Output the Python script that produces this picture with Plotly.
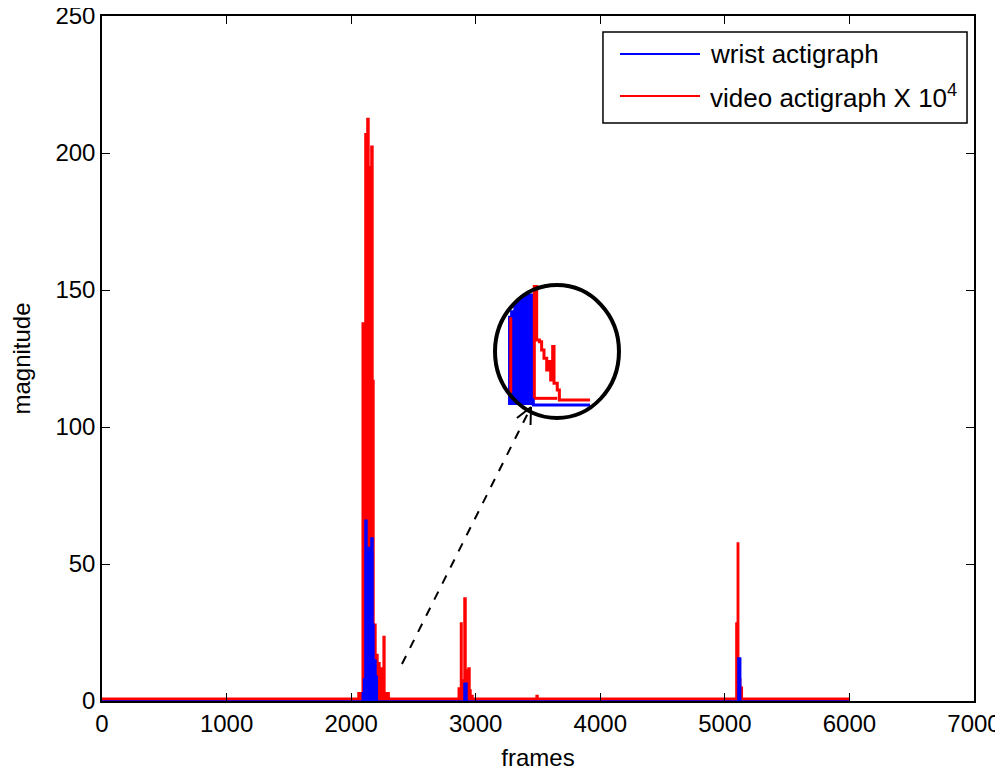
import plotly.graph_objects as go

# ---------------- data ----------------
# wrist actigraph (blue) – step samples (frame, magnitude)
wrist_frames = [0, 2090, 2100, 2111, 2127, 2159, 2175, 2183, 2199, 2210,
                2906, 2930, 5105, 5127, 6000]
wrist_mag = [0, 3, 8, 66, 56, 59.5, 28, 15, 9, 0,
             6.5, 0, 15.7, 0, 0]

# video actigraph x 10^4 (red)
video_frames = [0, 2055, 2089, 2111, 2127, 2143, 2159, 2175, 2183, 2199, 2215,
                2231, 2247, 2257, 2271, 2305, 2860, 2878, 2890, 2906, 2922,
                2938, 2954, 2962, 2978, 3485, 3500, 5089, 5100, 5111, 5127,
                5140, 6000]
video_mag = [1, 3, 138, 207, 212.6, 195, 202.5, 117, 28, 17, 14,
             12, 10, 23.5, 3, 1, 4.7, 28.5, 7.7, 37.6, 11.3,
             12, 4, 2, 1, 2, 1, 28.5, 57.7, 8, 5,
             1, 1]

# zoomed inset (inside the circle), in inset units
inset_blue_u = [10.5, 13.4, 16.0, 18.8, 21.5, 22.3, 23.6, 30.9, 76.6]
inset_blue_v = [66, 70, 75, 79, 81, 6, 82.7, 0, 0]
inset_red_u = [31.7, 31.7, 33.6, 35.8, 37.6, 39.5, 41.7, 43.0, 44.9, 46.5, 47.6, 50.2, 51.9, 76.6]
inset_red_v = [5, 89, 48.9, 47.6, 41.4, 35.1, 26.3, 32.6, 18.8, 43.9, 16.3, 11.3, 3.8, 3.8]
inset_red_left_u = [12.7, 12.7]
inset_red_left_v = [9, 66]

x_ticks = [0, 1000, 2000, 3000, 4000, 5000, 6000, 7000]
y_ticks = [0, 50, 100, 150, 200, 250]

legend_labels = ["wrist actigraph", "video actigraph X 10<sup>4</sup>"]
BLUE = "#0000ff"
RED = "#ff0000"
FONT = "Liberation Sans, Arial, sans-serif"

fig = go.Figure()

fig.add_trace(go.Scatter(x=video_frames, y=video_mag, mode="lines",
                         line=dict(color=RED, width=1.5, shape="hv"),
                         fill="tozeroy", fillcolor=RED, showlegend=False,
                         name="video actigraph X 10^4"))
fig.add_trace(go.Scatter(x=wrist_frames, y=wrist_mag, mode="lines",
                         line=dict(color=BLUE, width=1.5, shape="hv"),
                         fill="tozeroy", fillcolor=BLUE, showlegend=False,
                         name="wrist actigraph"))

# inset traces
fig.add_trace(go.Scatter(x=inset_blue_u, y=inset_blue_v, mode="lines",
                         line=dict(color=BLUE, width=3, shape="hv"),
                         fill="tozeroy", fillcolor=BLUE, showlegend=False,
                         xaxis="x2", yaxis="y2", hoverinfo="skip"))
fig.add_trace(go.Scatter(x=inset_red_u, y=inset_red_v, mode="lines",
                         line=dict(color=RED, width=3, shape="hv"),
                         showlegend=False, xaxis="x2", yaxis="y2", hoverinfo="skip"))
fig.add_trace(go.Scatter(x=inset_red_u[:2] + [inset_red_u[-3]], y=[5, 5, 5], mode="lines",
                         line=dict(color=RED, width=3),
                         showlegend=False, xaxis="x2", yaxis="y2", hoverinfo="skip"))
fig.add_trace(go.Scatter(x=inset_red_left_u, y=inset_red_left_v, mode="lines",
                         line=dict(color=RED, width=3),
                         showlegend=False, xaxis="x2", yaxis="y2", hoverinfo="skip"))

axis_common = dict(showline=True, linecolor="black", linewidth=1.5, mirror="ticks",
                   ticks="inside", ticklen=8, tickwidth=1.2, tickcolor="black",
                   showgrid=False, zeroline=False, automargin=False,
                   ticklabeloverflow="allow",
                   tickfont=dict(family=FONT, size=24, color="black"))

# the page body adds an 8px offset, so the figure is sized/placed to compensate
fig.update_layout(
    width=995, height=763,
    margin=dict(l=94, r=29, t=8, b=70),
    paper_bgcolor="white", plot_bgcolor="white",
    xaxis=dict(range=[0, 7000], tickvals=x_ticks,
               title=dict(text="frames", font=dict(family=FONT, size=24, color="black"), standoff=14),
               **axis_common),
    yaxis=dict(range=[0, 250], tickvals=y_ticks,
               title=dict(text="magnitude", font=dict(family=FONT, size=24, color="black"), standoff=21),
               **axis_common),
    xaxis2=dict(domain=[0.4507, 0.5929], range=[0, 100], visible=False, anchor="y2"),
    yaxis2=dict(domain=[0.4131, 0.6073], range=[-9.8, 90.2], visible=False, anchor="x2"),
    showlegend=False,
)

# circle around inset
fig.add_shape(type="circle", xref="x", yref="y", x0=3155, x1=4150, y0=103.3, y1=151.8,
              line=dict(color="black", width=4), layer="above")
# dashed arrow
fig.add_shape(type="line", xref="x", yref="y", x0=2408, y0=13.5, x1=3444, y1=107.3,
              line=dict(color="black", width=2, dash="dash"), layer="above")
fig.add_shape(type="line", xref="x", yref="y", x0=3444, y0=107.3, x1=3331, y1=103.3,
              line=dict(color="black", width=2), layer="above")
fig.add_shape(type="line", xref="x", yref="y", x0=3444, y0=107.3, x1=3440, y1=100.7,
              line=dict(color="black", width=2), layer="above")

# manual legend
fig.add_shape(type="rect", xref="paper", yref="paper", x0=0.5745, x1=0.992, y0=0.8438, y1=0.9766,
              line=dict(color="black", width=1.5), fillcolor="white", layer="above")
for yy, col, lab in [(0.9445, BLUE, legend_labels[0]), (0.8832, RED, legend_labels[1])]:
    fig.add_shape(type="line", xref="paper", yref="paper", x0=0.594, x1=0.6858, y0=yy, y1=yy,
                  line=dict(color=col, width=2), layer="above")
    fig.add_annotation(xref="paper", yref="paper", x=0.695, y=yy, text=lab, showarrow=False,
                       xanchor="left", yanchor="middle",
                       font=dict(family=FONT, size=26, color="black"))

fig.write_html("out.html")
